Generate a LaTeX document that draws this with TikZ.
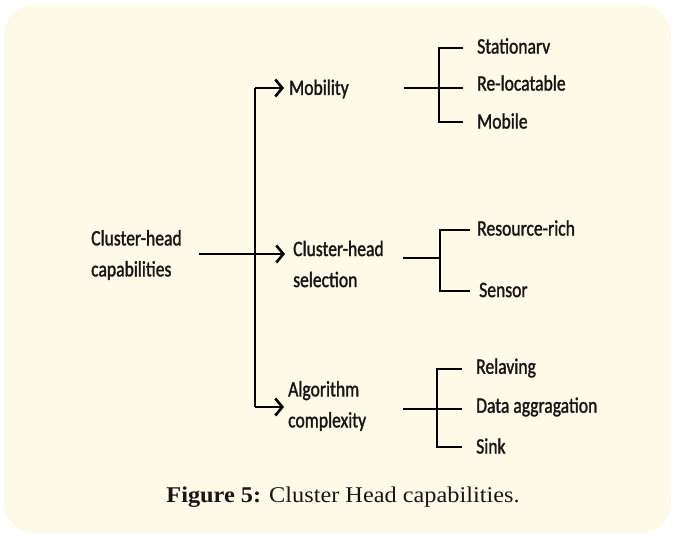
\documentclass[tikz,border=0pt]{standalone}
\usepackage{fontspec}
\setmainfont{Carlito}[FakeStretch=0.8,FakeBold=1.4]
\newfontfamily\capfont{Liberation Serif}[FakeStretch=1.08]
\usetikzlibrary{arrows.meta}
\definecolor{paper}{HTML}{FEFAE8}
\definecolor{ink}{HTML}{161616}
\tikzset{
  lbl/.style={anchor=west, inner sep=0pt, text=ink, align=left,
    font=\fontsize{22}{31}\selectfont},
  ln/.style={draw=black, line width=2.8pt},
  arr/.style={ln, -{Straight Barb[length=7pt,width=17pt,line width=2.6pt]}},
}
\begin{document}
\begin{tikzpicture}[x=1pt,y=-1pt]
\useasboundingbox (0,0) rectangle (675,538);
\fill[paper, rounded corners=30pt] (4,5) rectangle (671,533);

% root and first level
\node[lbl] (root) at (91,255) {Cluster-head\\capabilities};
\node[lbl] (mob)  at (289,89)  {Mobility};
\node[lbl] (sel)  at (293,264) {Cluster-head\\selection};
\node[lbl] (alg)  at (288,406) {Algorithm\\complexity};

% second level
\node[lbl] (stat)   at (477,46)  {Stationarv};
\node[lbl] (reloc)  at (477,83)  {Re-locatable};
\node[lbl] (mobile) at (477,121) {Mobile};
\node[lbl] (rich)   at (477,228) {Resource-rich};
\node[lbl] (sensor) at (479,290) {Sensor};
\node[lbl] (relay)  at (476,368) {Relaving};
\node[lbl] (data)   at (476,407) {Data aggragation};
\node[lbl] (sink)   at (476,446) {Sink};

% trunk from the root to the three capabilities
\coordinate (tTop) at (255,88);
\coordinate (tMid) at (255,254);
\coordinate (tBot) at (255,407);
\draw[ln] (tTop) -- (tBot);
\draw[arr] ([xshift=17pt]root.east |- tMid) -- ([xshift=-8pt]sel.west |- tMid);
\draw[arr] (tTop) -- ([xshift=-5pt]mob.west |- tTop);
\draw[arr] (tBot) -- ([xshift=-4pt]alg.west |- tBot);

% fork for mobility
\coordinate (m0) at (404,88);
\coordinate (mv) at (439,88);
\draw[ln] (m0) -- ([xshift=-14pt]reloc.west |- m0);
\draw[ln] ([xshift=-14pt]stat.west |- 0,48) -| (mv) |- ([xshift=-14pt]mobile.west |- 0,122);

% fork for cluster-head selection
\coordinate (s0) at (403,258);
\coordinate (sv) at (440,258);
\draw[ln] (s0) -- (sv);
\draw[ln] ([xshift=-7pt]rich.west |- 0,230) -| (sv) |- ([xshift=-9pt]sensor.west |- 0,291);

% fork for algorithm complexity
\coordinate (a0) at (403,409);
\coordinate (av) at (437,409);
\draw[ln] (a0) -- ([xshift=-14pt]data.west |- a0);
\draw[ln] ([xshift=-14pt]relay.west |- 0,369) -| (av) |- ([xshift=-14pt]sink.west |- 0,447);

% caption
\node[text=ink, font=\capfont\fontsize{22.5}{26}\selectfont] (cap) at (343,497)
  {\textbf{Figure 5:} Cluster Head capabilities.};
\end{tikzpicture}
\end{document}
